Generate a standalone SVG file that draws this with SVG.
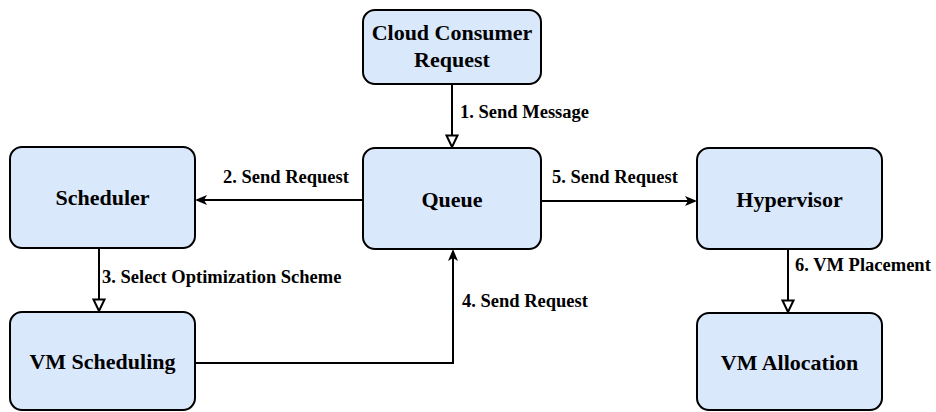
<svg xmlns="http://www.w3.org/2000/svg" width="936" height="412" viewBox="0 0 936 412">
<style>
.node rect{fill:#dae8fc;stroke:#000;stroke-width:2}
.node text{font-family:'Liberation Serif',Tinos,'Times New Roman','DejaVu Serif',serif;font-weight:700;font-size:22px;text-anchor:middle;fill:#000}
.edge{fill:none;stroke:#000;stroke-width:2}
.lbl{font-family:'Liberation Serif',Tinos,'Times New Roman','DejaVu Serif',serif;font-weight:700;font-size:18.5px;fill:#000}
</style>
<defs>
<marker id="filled" viewBox="0 0 12 10" refX="10" refY="5" markerWidth="12" markerHeight="10" markerUnits="userSpaceOnUse" orient="auto">
<path d="M0,0 L12,5 L0,10 L3,5 Z" fill="#000"/>
</marker>
<marker id="open" viewBox="0 0 15 14" refX="13" refY="7" markerWidth="15" markerHeight="14" markerUnits="userSpaceOnUse" orient="auto">
<path d="M1.5,1.5 L13,7 L1.5,12.5 Z" fill="#fff" stroke="#000" stroke-width="2" stroke-linejoin="miter"/>
</marker>
</defs>
<g id="cloud-consumer-request" class="node">
<rect x="363" y="10" width="178" height="74" rx="12"/>
<text x="452" y="40">Cloud Consumer</text>
<text x="452" y="67">Request</text>
</g>
<g id="queue" class="node">
<rect x="363" y="148" width="178" height="101" rx="12"/>
<text x="452" y="207">Queue</text>
</g>
<g id="scheduler" class="node">
<rect x="10" y="147" width="185" height="101" rx="12"/>
<text x="102.5" y="205">Scheduler</text>
</g>
<g id="vm-scheduling" class="node">
<rect x="10" y="312" width="185" height="98" rx="12"/>
<text x="102.5" y="369">VM Scheduling</text>
</g>
<g id="hypervisor" class="node">
<rect x="697" y="148" width="185" height="101" rx="12"/>
<text x="789.5" y="207">Hypervisor</text>
</g>
<g id="vm-allocation" class="node">
<rect x="697" y="313" width="185" height="97" rx="12"/>
<text x="789.5" y="370">VM Allocation</text>
</g>
<g id="connectors">
<path class="edge" d="M452,84 V147" marker-end="url(#open)"/>
<text class="lbl" x="460" y="118">1. Send Message</text>
<path class="edge" d="M363,200 H197" marker-end="url(#filled)"/>
<text class="lbl" x="223" y="183">2. Send Request</text>
<path class="edge" d="M99,248 V311" marker-end="url(#open)"/>
<text class="lbl" x="102" y="283">3. Select Optimization Scheme</text>
<path class="edge" d="M195,363 H453 V251" marker-end="url(#filled)"/>
<text class="lbl" x="462" y="307">4. Send Request</text>
<path class="edge" d="M541,201 H695" marker-end="url(#filled)"/>
<text class="lbl" x="552" y="183">5. Send Request</text>
<path class="edge" d="M788,249 V312" marker-end="url(#open)"/>
<text class="lbl" x="795" y="271">6. VM Placement</text>
</g>
</svg>
